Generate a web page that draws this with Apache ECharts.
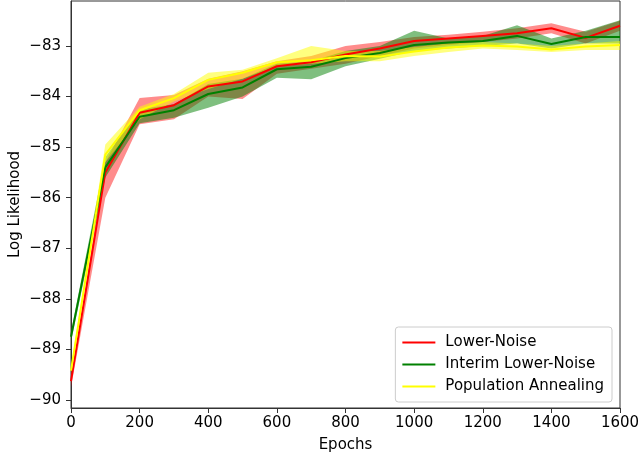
<!DOCTYPE html>
<html>
<head>
<meta charset="utf-8">
<script src="https://cdn.jsdelivr.net/npm/echarts@6/dist/echarts.min.js"></script>
<style>
  html, body { margin: 0; padding: 0; background: #fff; }
  #chart { width: 639px; height: 459px; }
</style>
</head>
<body>
<div id="chart"></div>
<script>
// epochs on the x axis
var epochs = [0, 100, 200, 300, 400, 500, 600, 700, 800, 900, 1000, 1100, 1200, 1300, 1400, 1500, 1600];

// Lower-Noise (red)
var lowerNoise = [-89.63, -85.5, -84.32, -84.17, -83.8, -83.7, -83.4, -83.32, -83.17, -83.05, -82.9, -82.85, -82.8, -82.75, -82.65, -82.84, -82.6];
var lowerNoiseLo = [-89.75, -86.0, -84.55, -84.45, -84.0, -84.05, -83.55, -83.45, -83.35, -83.2, -83.05, -82.98, -82.92, -82.85, -82.75, -82.95, -82.7];
var lowerNoiseHi = [-89.55, -85.3, -84.03, -83.97, -83.65, -83.5, -83.3, -83.2, -83.0, -82.92, -82.82, -82.78, -82.72, -82.65, -82.55, -82.72, -82.5];

// Interim Lower-Noise (green)
var interim = [-88.75, -85.4, -84.4, -84.27, -83.95, -83.82, -83.46, -83.41, -83.24, -83.14, -82.98, -82.93, -82.9, -82.8, -82.96, -82.82, -82.82];
var interimLo = [-88.85, -85.6, -84.53, -84.42, -84.22, -84.0, -83.63, -83.66, -83.4, -83.25, -83.1, -83.05, -83.0, -82.95, -83.05, -82.95, -82.95];
var interimHi = [-88.65, -85.2, -84.25, -84.15, -83.75, -83.65, -83.35, -83.3, -83.1, -83.0, -82.7, -82.85, -82.8, -82.59, -82.85, -82.7, -82.49];

// Population Annealing (yellow)
var popAnneal = [-89.42, -85.15, -84.27, -84.03, -83.67, -83.53, -83.32, -83.28, -83.2, -83.21, -83.11, -83.03, -82.99, -83.01, -83.07, -83.01, -82.98];
var popAnnealLo = [-89.5, -85.3, -84.45, -84.1, -83.85, -83.65, -83.4, -83.35, -83.3, -83.3, -83.2, -83.12, -83.05, -83.08, -83.12, -83.08, -83.08];
var popAnnealHi = [-89.35, -84.95, -84.2, -83.95, -83.53, -83.47, -83.24, -83.0, -83.1, -83.1, -83.02, -82.95, -82.92, -82.95, -83.0, -82.95, -82.9];

var yTicks = [-90, -89, -88, -87, -86, -85, -84, -83];

var font = 'DejaVu Sans';
var fs = 15;

function pairs(ys) {
  return ys.map(function (y, i) { return [epochs[i], y]; });
}

// shaded band between lo and hi, drawn as one polygon through the axes
function band(key, lo, hi, color) {
  return {
    name: key + '_band', type: 'custom', silent: true,
    data: epochs.map(function (x, i) { return [x, lo[i], hi[i]]; }),
    encode: { x: 0, y: [1, 2] },
    renderItem: function (params, api) {
      if (params.dataIndex !== 0) return null;
      var pts = [];
      for (var i = 0; i < epochs.length; i++) pts.push(api.coord([epochs[i], hi[i]]));
      for (var j = epochs.length - 1; j >= 0; j--) pts.push(api.coord([epochs[j], lo[j]]));
      return { type: 'polygon', shape: { points: pts }, style: { fill: color } };
    }
  };
}

function meanLine(name, ys, color) {
  return {
    name: name, type: 'line', data: pairs(ys), symbol: 'none',
    lineStyle: { color: color, width: 2 },
    itemStyle: { color: color }
  };
}

var series = [
  band('red', lowerNoiseLo, lowerNoiseHi, 'rgba(255,0,0,0.45)'),
  meanLine('Lower-Noise', lowerNoise, '#ff0000'),
  band('green', interimLo, interimHi, 'rgba(0,128,0,0.5)'),
  meanLine('Interim Lower-Noise', interim, '#008000'),
  band('yellow', popAnnealLo, popAnnealHi, 'rgba(255,255,0,0.5)'),
  meanLine('Population Annealing', popAnneal, '#ffff00')
];

var myChart = echarts.init(document.getElementById('chart'));
myChart.setOption({
  animation: false,
  backgroundColor: '#fff',
  textStyle: { fontFamily: font },
  grid: {
    left: 71, right: 19, top: 1, bottom: 51,
    outerBoundsMode: 'none', containLabel: false,
    show: true, borderColor: '#333', borderWidth: 1
  },
  legend: {
    orient: 'vertical',
    right: 27, bottom: 57,
    data: ['Lower-Noise', 'Interim Lower-Noise', 'Population Annealing'],
    icon: 'rect',
    itemWidth: 33, itemHeight: 2,
    itemGap: 7,
    backgroundColor: 'rgba(255,255,255,0.85)',
    borderColor: '#ccc', borderWidth: 1, borderRadius: 3,
    padding: [8, 8, 8, 7],
    textStyle: { fontFamily: font, fontSize: fs, color: '#000', padding: [0, 0, 0, 5] }
  },
  xAxis: {
    type: 'value',
    min: 0, max: 1600, interval: 200,
    name: 'Epochs', nameLocation: 'middle', nameGap: 30, nameMoveOverlap: false,
    nameTextStyle: { fontFamily: font, fontSize: fs, color: '#000' },
    axisLine: { lineStyle: { color: '#333', width: 1 } },
    axisTick: { show: true, inside: false, length: 5, lineStyle: { color: '#333' } },
    axisLabel: {
      margin: 8, fontFamily: font, fontSize: fs, color: '#000',
      formatter: function (v) { return String(v); }
    },
    splitLine: { show: false }
  },
  yAxis: {
    type: 'value',
    min: -90.16, max: -82.11,
    name: 'Log Likelihood', nameLocation: 'middle', nameGap: 48, nameMoveOverlap: false,
    nameTextStyle: { fontFamily: font, fontSize: fs, color: '#000' },
    axisLine: { show: true, lineStyle: { color: '#333', width: 1 } },
    axisTick: { show: true, length: 5, customValues: yTicks, lineStyle: { color: '#333' } },
    axisLabel: {
      margin: 10, fontFamily: font, fontSize: fs, color: '#000',
      customValues: yTicks,
      formatter: function (v) { return '\u2212' + Math.abs(v); }
    },
    splitLine: { show: false }
  },
  series: series
});
</script>
</body>
</html>
